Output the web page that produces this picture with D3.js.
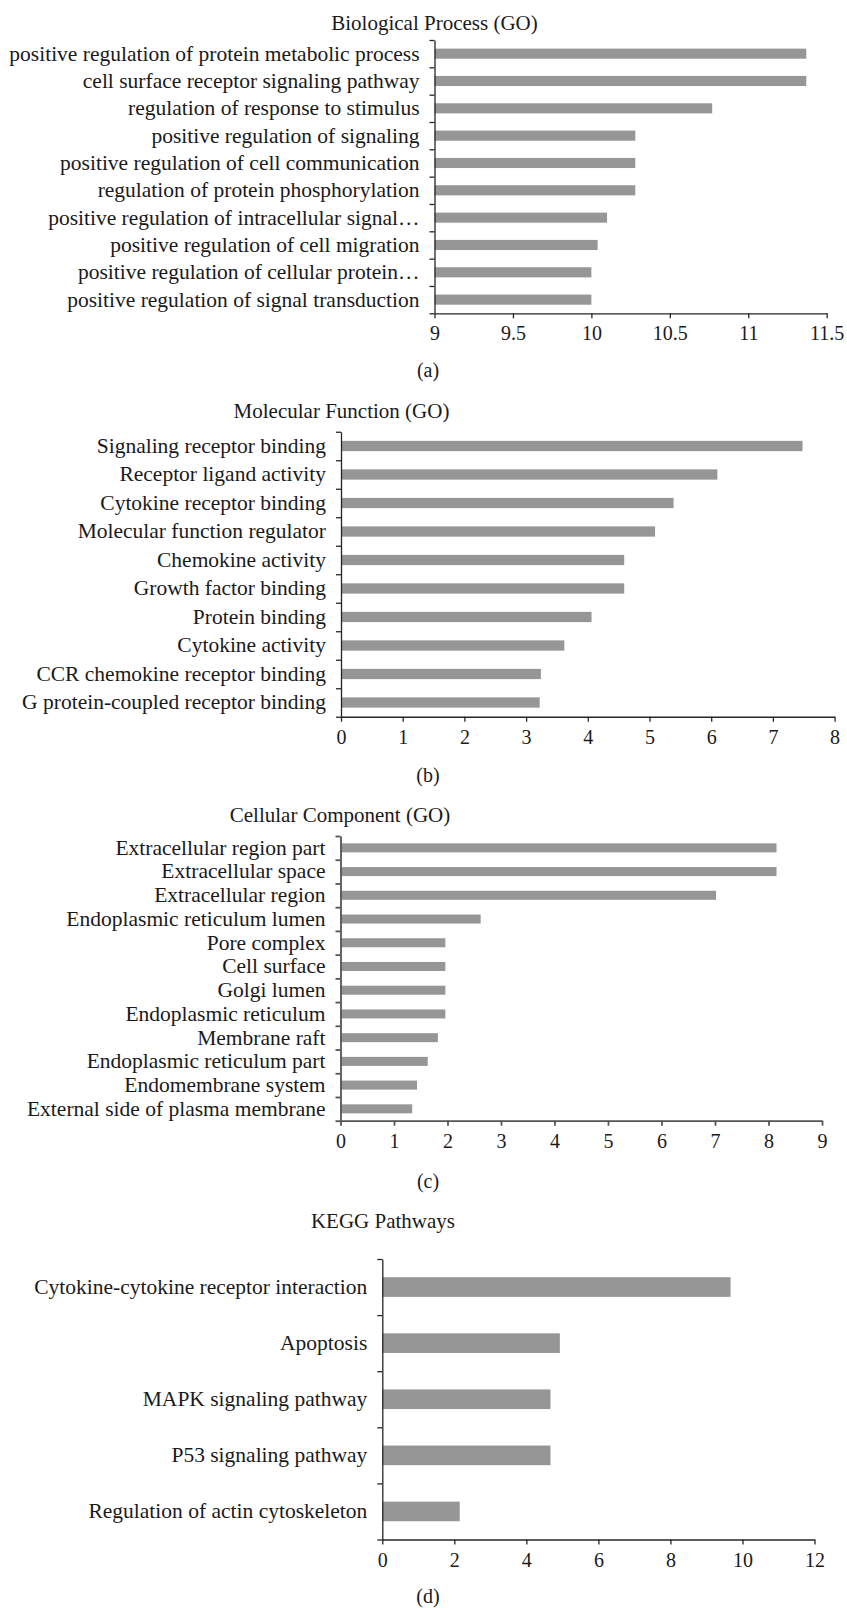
<!DOCTYPE html>
<html>
<head>
<meta charset="utf-8">
<script src="https://cdn.jsdelivr.net/npm/d3@7"></script>
<style>
    body { margin: 0; background: #fff; }
    svg text { font-family: "Liberation Serif", "Times New Roman", serif; fill: #1a1a1a; }
</style>
</head>
<body>
<svg id="svg" width="847" height="1608"></svg>
<script>
// (a) Biological Process
const bpTerms = [
    "positive regulation of protein metabolic process",
    "cell surface receptor signaling pathway",
    "regulation of response to stimulus",
    "positive regulation of signaling",
    "positive regulation of cell communication",
    "regulation of protein phosphorylation",
    "positive regulation of intracellular signal\u2026",
    "positive regulation of cell migration",
    "positive regulation of cellular protein\u2026",
    "positive regulation of signal transduction"
];
const bpValues = [11.37, 11.37, 10.77, 10.28, 10.28, 10.28, 10.10, 10.04, 10.0, 10.0];
const bpTicks = [9, 9.5, 10, 10.5, 11, 11.5];

// (b) Molecular Function
const mfTerms = [
    "Signaling receptor binding",
    "Receptor ligand activity",
    "Cytokine receptor binding",
    "Molecular function regulator",
    "Chemokine activity",
    "Growth factor binding",
    "Protein binding",
    "Cytokine activity",
    "CCR chemokine receptor binding",
    "G protein-coupled receptor binding"
];
const mfValues = [7.48, 6.10, 5.39, 5.09, 4.59, 4.59, 4.06, 3.62, 3.24, 3.22];
const mfTicks = [0, 1, 2, 3, 4, 5, 6, 7, 8];

// (c) Cellular Component
const ccTerms = [
    "Extracellular region part",
    "Extracellular space",
    "Extracellular region",
    "Endoplasmic reticulum lumen",
    "Pore complex",
    "Cell surface",
    "Golgi lumen",
    "Endoplasmic reticulum",
    "Membrane raft",
    "Endoplasmic reticulum part",
    "Endomembrane system",
    "External side of plasma membrane"
];
const ccValues = [8.15, 8.15, 7.02, 2.62, 1.96, 1.96, 1.96, 1.96, 1.82, 1.63, 1.43, 1.34];
const ccTicks = [0, 1, 2, 3, 4, 5, 6, 7, 8, 9];

// (d) KEGG
const keggTerms = [
    "Cytokine-cytokine receptor interaction",
    "Apoptosis",
    "MAPK signaling pathway",
    "P53 signaling pathway",
    "Regulation of actin cytoskeleton"
];
const keggValues = [9.67, 4.93, 4.67, 4.67, 2.15];
const keggTicks = [0, 2, 4, 6, 8, 10, 12];

const FONT = "\"Liberation Serif\", \"Times New Roman\", serif";
const BAR_COLOR = "#969696";

const panels = [
    { title: "Biological Process (GO)", letter: "(a)", terms: bpTerms, values: bpValues, ticks: bpTicks,
      x0: 434.5, x1: 826.7, top: 40, bottom: 313.3, titleX: 434.5, titleY: 30, letterY: 376.7,
      pad: 0.63, axisColor: "#262626", axisWidth: 1.3 },
    { title: "Molecular Function (GO)", letter: "(b)", terms: mfTerms, values: mfValues, ticks: mfTicks,
      x0: 341, x1: 834.6, top: 431.75, bottom: 716.75, titleX: 341.5, titleY: 418, letterY: 782,
      pad: 0.64, axisColor: "#262626", axisWidth: 1.3 },
    { title: "Cellular Component (GO)", letter: "(c)", terms: ccTerms, values: ccValues, ticks: ccTicks,
      x0: 340.5, x1: 822, top: 836, bottom: 1120.7, titleX: 340, titleY: 821.7, letterY: 1188,
      pad: 0.62, axisColor: "#555555", axisWidth: 1.8 },
    { title: "KEGG Pathways", letter: "(d)", terms: keggTerms, values: keggValues, ticks: keggTicks,
      x0: 382.3, x1: 814.5, top: 1259, bottom: 1539.5, titleX: 383, titleY: 1228, letterY: 1603,
      pad: 0.65, axisColor: "#262626", axisWidth: 1.3 }
];

const svg = d3.select("#svg");

function drawPanel(p) {
    const g = svg.append("g");
    const rows = p.terms.map((t, i) => ({ term: t, value: p.values[i] }));
    const n = rows.length;

    const x = d3.scaleLinear()
        .domain([p.ticks[0], p.ticks[p.ticks.length - 1]])
        .range([p.x0, p.x1]);
    const y = d3.scaleBand()
        .domain(p.terms)
        .range([p.top, p.bottom])
        .paddingInner(p.pad)
        .paddingOuter(p.pad / 2);
    // category boundaries for the tick marks
    const yEdges = d3.scaleLinear().domain([0, n]).range([p.top, p.bottom]);

    g.selectAll("rect")
        .data(rows)
        .join("rect")
        .attr("x", x(p.ticks[0]))
        .attr("y", d => y(d.term))
        .attr("width", d => x(d.value) - x(p.ticks[0]))
        .attr("height", y.bandwidth())
        .attr("fill", BAR_COLOR);

    const yAxis = g.append("g")
        .attr("transform", "translate(" + p.x0 + ",0)")
        .call(d3.axisLeft(yEdges).tickValues(d3.range(n + 1)).tickFormat("")
            .tickSizeInner(5).tickSizeOuter(0));
    yAxis.attr("color", p.axisColor);
    yAxis.selectAll("path, line").attr("stroke-width", p.axisWidth);

    const xAxis = g.append("g")
        .attr("transform", "translate(0," + p.bottom + ")")
        .call(d3.axisBottom(x).tickValues(p.ticks).tickFormat(d3.format("~g"))
            .tickSizeInner(5).tickSizeOuter(0).tickPadding(8));
    xAxis.attr("color", p.axisColor)
        .attr("font-family", FONT)
        .attr("font-size", 20);
    xAxis.selectAll("path, line").attr("stroke-width", p.axisWidth);
    xAxis.selectAll("text").attr("fill", "#1a1a1a");

    g.selectAll("text.label")
        .data(rows)
        .join("text")
        .attr("class", "label")
        .attr("x", p.x0 - 15)
        .attr("y", d => y(d.term) + y.bandwidth() / 2)
        .attr("dy", "0.32em")
        .attr("text-anchor", "end")
        .attr("font-size", 21.5)
        .text(d => d.term);

    g.append("text")
        .attr("x", p.titleX)
        .attr("y", p.titleY)
        .attr("text-anchor", "middle")
        .attr("font-size", 21)
        .text(p.title);

    g.append("text")
        .attr("x", 428)
        .attr("y", p.letterY)
        .attr("text-anchor", "middle")
        .attr("font-size", 20)
        .text(p.letter);
}

panels.forEach(drawPanel);
</script>
</body>
</html>
